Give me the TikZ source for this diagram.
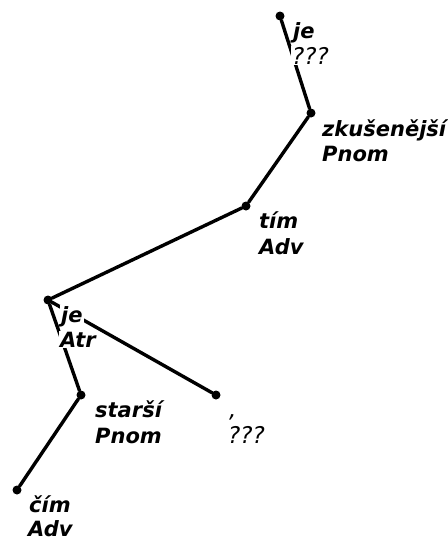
\documentclass[tikz,border=0pt]{standalone}
\usepackage{fontspec}
\setmainfont{DejaVu Sans}
\usepackage{xcolor}
\usepackage{tikz}
\usetikzlibrary{positioning}

\begin{document}
\begin{tikzpicture}[
    x=1pt, y=-1pt,
    dot/.style={circle, fill=black, inner sep=0pt, minimum size=9pt},
    edge/.style={line width=3.4pt, line cap=round},
    lbl/.style={font=\fontsize{21}{25}\selectfont\bfseries\itshape, fill=white, inner sep=1pt, anchor=base west},
    lblq/.style={lbl, font=\fontsize{23}{25}\selectfont\itshape}
]
    \useasboundingbox (0,0) rectangle (448,542);

    % tree nodes
    \node[dot] (je1) at (280,16) {};
    \node[dot] (zkus) at (311,113) {};
    \node[dot] (tim) at (246,206) {};
    \node[dot] (je2) at (48,300) {};
    \node[dot] (starsi) at (81,395) {};
    \node[dot] (comma) at (216,395) {};
    \node[dot] (cim) at (17,490) {};

    % edges
    \draw[edge] (je1) -- (zkus);
    \draw[edge] (zkus) -- (tim);
    \draw[edge] (tim) -- (je2);
    \draw[edge] (je2) -- (starsi);
    \draw[edge] (je2) -- (comma);
    \draw[edge] (starsi) -- (cim);

    % labels
    \node[lbl] (je1w) at ([xshift=12pt,yshift=-22pt]je1) {je};
    \node[lblq] (je1f) at ([xshift=11pt,yshift=-48pt]je1) {???};
    \node[lbl] (zkusw) at ([xshift=10pt,yshift=-23pt]zkus) {zkušenější};
    \node[lbl] (zkusf) at ([xshift=10pt,yshift=-48pt]zkus) {Pnom};
    \node[lbl] (timw) at ([xshift=12pt,yshift=-22pt]tim) {tím};
    \node[lbl] (timf) at ([xshift=12pt,yshift=-48pt]tim) {Adv};
    \node[lbl] (je2w) at ([xshift=12pt,yshift=-22pt]je2) {je};
    \node[lbl] (je2f) at ([xshift=11pt,yshift=-47pt]je2) {Atr};
    \node[lbl] (starsiw) at ([xshift=13pt,yshift=-22pt]starsi) {starší};
    \node[lbl] (starsif) at ([xshift=13pt,yshift=-48pt]starsi) {Pnom};
    \node[lblq] (commaw) at ([xshift=12pt,yshift=-22pt]comma) {,};
    \node[lblq] (commaf) at ([xshift=11pt,yshift=-48pt]comma) {???};
    \node[lbl] (cimw) at ([xshift=11pt,yshift=-22pt]cim) {čím};
    \node[lbl] (cimf) at ([xshift=10pt,yshift=-46pt]cim) {Adv};
\end{tikzpicture}
\end{document}
